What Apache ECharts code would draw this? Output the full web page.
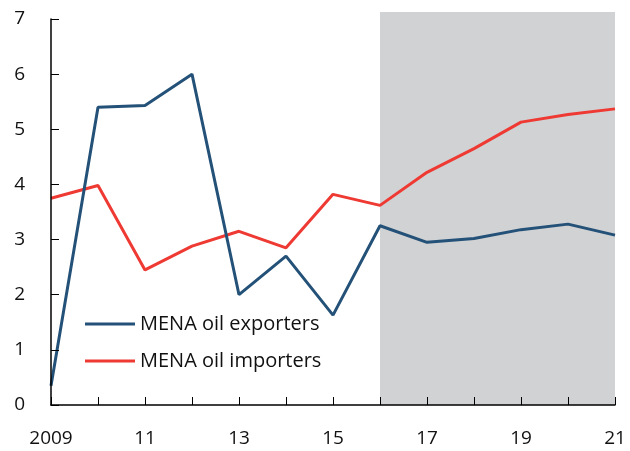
<!DOCTYPE html>
<html>
<head>
<meta charset="utf-8">
<script src="https://cdn.jsdelivr.net/npm/echarts@6/dist/echarts.min.js"></script>
<style>
  html, body { margin: 0; padding: 0; background: #fff; }
  #chart { width: 630px; height: 451px; }
</style>
</head>
<body>
<div id="chart"></div>
<script>
// years on the x axis and the labels shown under them
const years = ['2009', '2010', '2011', '2012', '2013', '2014', '2015', '2016', '2017', '2018', '2019', '2020', '2021'];
const yearLabels = ['2009', '10', '11', '12', '13', '14', '15', '16', '17', '18', '19', '20', '21'];

const exporters = [0.35, 5.4, 5.43, 6.0, 2.0, 2.7, 1.63, 3.25, 2.95, 3.02, 3.18, 3.28, 3.08];
const importers = [3.75, 3.98, 2.45, 2.88, 3.15, 2.85, 3.82, 3.62, 4.22, 4.65, 5.13, 5.27, 5.37];

// projection period shaded
const shadeFrom = '2016';
const shadeTo = '2021';

const chart = echarts.init(document.getElementById('chart'));

const font = 'Open Sans, DejaVu Sans, sans-serif';

chart.setOption({
    animation: false,
    grid: [
        { left: 51, right: 15, top: 19, bottom: 46 },
        // background grid for the shading, reaches a bit above the top tick
        { left: 51, right: 15, top: 12, bottom: 46, z: 0 }
    ],
    legend: {
        left: 85,
        top: 314,
        padding: 0,
        orient: 'vertical',
        itemGap: 17,
        itemWidth: 50,
        itemHeight: 3,
        icon: 'rect',
        textStyle: { fontFamily: font, fontSize: 20, color: '#111' },
        data: ['MENA oil exporters', 'MENA oil importers']
    },
    xAxis: [
        {
            type: 'category',
            data: years,
            boundaryGap: false,
            z: 5,
            axisLine: { lineStyle: { color: '#000', width: 1.5 } },
            axisTick: { inside: true, length: 8, interval: 0, lineStyle: { color: '#000' } },
            axisLabel: {
                interval: 1,
                margin: 24,
                fontFamily: font,
                fontSize: 19,
                color: '#111',
                formatter: (v, i) => yearLabels[i]
            },
            splitLine: { show: false }
        },
        { type: 'category', data: years, boundaryGap: false, gridIndex: 1, show: false }
    ],
    yAxis: [
        {
            type: 'value',
            min: 0,
            max: 7,
            interval: 1,
            z: 5,
            axisLine: { show: true, lineStyle: { color: '#000', width: 1.5 } },
            axisTick: { show: true, inside: true, length: 8, lineStyle: { color: '#000' } },
            axisLabel: { margin: 26, fontFamily: font, fontSize: 19, color: '#111' },
            splitLine: { show: false }
        },
        { type: 'value', min: 0, max: 1, gridIndex: 1, show: false }
    ],
    series: [
        {
            name: 'shade',
            type: 'line',
            xAxisIndex: 1,
            yAxisIndex: 1,
            data: [],
            z: 0,
            markArea: {
                silent: true,
                itemStyle: { color: '#d1d2d4' },
                data: [[{ xAxis: shadeFrom, yAxis: 0 }, { xAxis: shadeTo, yAxis: 1 }]]
            }
        },
        {
            name: 'MENA oil exporters',
            type: 'line',
            data: exporters,
            symbol: 'none',
            z: 3,
            lineStyle: { color: '#245178', width: 3 },
            itemStyle: { color: '#245178' }
        },
        {
            name: 'MENA oil importers',
            type: 'line',
            data: importers,
            symbol: 'none',
            z: 2,
            lineStyle: { color: '#ee3a33', width: 3 },
            itemStyle: { color: '#ee3a33' }
        }
    ]
});
</script>
</body>
</html>
